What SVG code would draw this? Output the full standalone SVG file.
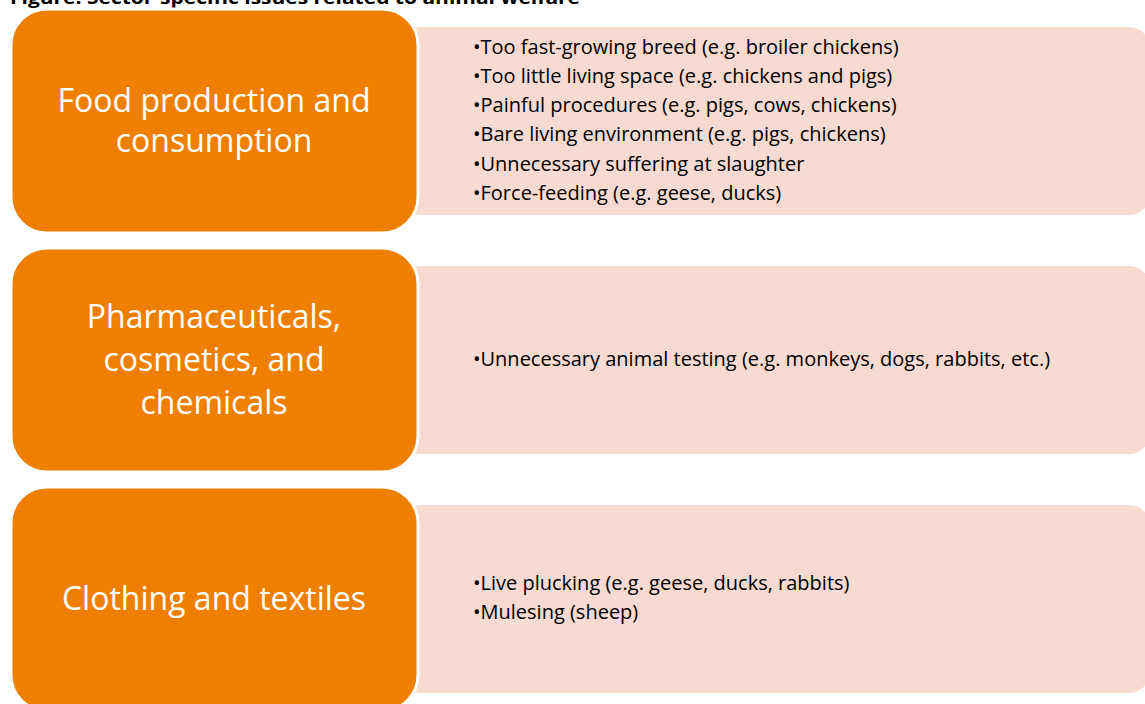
<svg xmlns="http://www.w3.org/2000/svg" width="1145" height="704" viewBox="0 0 1145 704">
<style>
.bg{fill:#ffffff}
.pink{fill:#F7DAD0}
.orange{fill:#EF7F00;stroke:#ffffff;stroke-width:3}
.head{font-family:"Open Sans","Liberation Sans",sans-serif;font-size:32px;fill:#ffffff;text-anchor:middle}
.item{font-family:"Open Sans","Liberation Sans",sans-serif;font-size:20px;fill:#000000}
.title{font-family:"Open Sans","Liberation Sans",sans-serif;font-size:18px;font-weight:bold;fill:#000000}
</style>
<rect class="bg" x="0" y="0" width="1145" height="704"/>
<text class="title" x="10" y="4" textLength="570" lengthAdjust="spacingAndGlyphs">Figure: Sector-specific issues related to animal welfare</text>
<g id="connectors"></g>
<g id="detail1">
<rect class="pink" x="400" y="27" width="750" height="188" rx="21" ry="21"/>
<text class="item" x="473" y="54">•Too fast-growing breed (e.g. broiler chickens)</text>
<text class="item" x="473" y="83">•Too little living space (e.g. chickens and pigs)</text>
<text class="item" x="473" y="112">•Painful procedures (e.g. pigs, cows, chickens)</text>
<text class="item" x="473" y="141">•Bare living environment (e.g. pigs, chickens)</text>
<text class="item" x="473" y="171">•Unnecessary suffering at slaughter</text>
<text class="item" x="473" y="200">•Force-feeding (e.g. geese, ducks)</text>
</g>
<g id="detail2">
<rect class="pink" x="400" y="266" width="750" height="188" rx="21" ry="21"/>
<text class="item" x="473" y="366">•Unnecessary animal testing (e.g. monkeys, dogs, rabbits, etc.)</text>
</g>
<g id="detail3">
<rect class="pink" x="400" y="505" width="750" height="188" rx="21" ry="21"/>
<text class="item" x="473" y="590">•Live plucking (e.g. geese, ducks, rabbits)</text>
<text class="item" x="473" y="619">•Mulesing (sheep)</text>
</g>
<g id="sector1">
<rect class="orange" x="11" y="9" width="407" height="224" rx="36" ry="36"/>
<text class="head" x="214" y="112">Food production and</text>
<text class="head" x="214" y="152">consumption</text>
</g>
<g id="sector2">
<rect class="orange" x="11" y="248" width="407" height="224" rx="36" ry="36"/>
<text class="head" x="214" y="328">Pharmaceuticals,</text>
<text class="head" x="214" y="371">cosmetics, and</text>
<text class="head" x="214" y="414">chemicals</text>
</g>
<g id="sector3">
<rect class="orange" x="11" y="487" width="407" height="224" rx="36" ry="36"/>
<text class="head" x="214" y="610">Clothing and textiles</text>
</g>
</svg>
